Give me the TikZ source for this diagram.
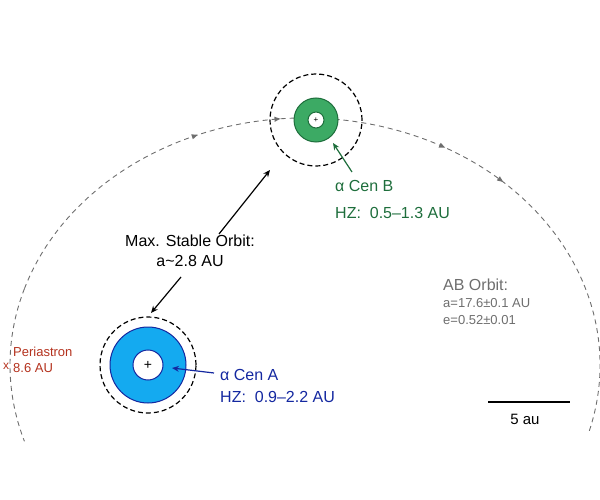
\documentclass[tikz,border=0pt]{standalone}
\usepackage{fontspec}
\setmainfont{Liberation Sans}
\usetikzlibrary{decorations.markings,arrows.meta}
\definecolor{gB}{RGB}{60,170,100}
\definecolor{gBt}{RGB}{30,110,60}
\definecolor{bA}{RGB}{20,170,240}
\definecolor{bAt}{RGB}{20,40,160}
\definecolor{redt}{RGB}{180,50,30}
\definecolor{grayt}{RGB}{110,110,110}
\begin{document}
\begin{tikzpicture}[x=1pt,y=-1pt,
  lbl/.style={font=\fontsize{16}{19}\selectfont,align=left,anchor=west,inner sep=0},
  zone/.style={circle,inner sep=0,line width=1pt},
  stab/.style={circle,draw,dashed,line width=1.2pt,dash pattern=on 5pt off 3pt,inner sep=0},
  ptr/.style={-{Stealth[length=7pt,width=6pt]},line width=1.2pt}]
\useasboundingbox (0,0) rectangle (600,500);
% orbit
\draw[grayt,line width=0.9pt,dash pattern=on 5pt off 4pt,
  postaction={decorate},
  decoration={markings,
   mark=at position 0.28 with {\fill[grayt] (3,0)--(-3,2.6)--(-3,-2.6)--cycle;},
   mark=at position 0.38 with {\fill[grayt] (3,0)--(-3,2.6)--(-3,-2.6)--cycle;},
   mark=at position 0.45 with {\fill[grayt] (3,0)--(-3,2.6)--(-3,-2.6)--cycle;},
   mark=at position 0.58 with {\fill[grayt] (3,0)--(-3,2.6)--(-3,-2.6)--cycle;},
   mark=at position 0.66 with {\fill[grayt] (3,0)--(-3,2.6)--(-3,-2.6)--cycle;}}]
  (305,365) ++(162:295 and -247) arc[start angle=162,end angle=-16,x radius=295,y radius=-247];
\draw[grayt,line width=0.9pt,dash pattern=on 5pt off 4pt]
  (305,365) ++(162:295 and -247) arc[start angle=162,end angle=198,x radius=295,y radius=-247];
% star B
\node[stab,minimum size=92pt] (sB) at (316,120) {};
\node[zone,fill=gB,draw=gBt,minimum size=44pt] (hzB) at (316,120) {};
\node[zone,fill=white,draw=gBt,minimum size=16pt] (cB) at (316,120) {};
\node[font=\fontsize{8}{8}\selectfont,inner sep=0] (pB) at (316,120) {+};
% star A
\node[stab,minimum size=96pt] (sA) at (148,365) {};
\node[zone,fill=bA,draw=bAt,minimum size=76pt] (hzA) at (148,365) {};
\node[zone,fill=white,draw=bAt,minimum size=30pt] (cA) at (148,365) {};
\node[font=\fontsize{14}{14}\selectfont,inner sep=0] (pA) at (148,365) {+};
% labels
\node[font=\fontsize{16}{20}\selectfont,align=center] (mso) at (190,251) {Max. Stable Orbit:\\a\textasciitilde 2.8 AU};
\coordinate (m1) at (219,234); \coordinate (t1) at (270,170);
\coordinate (m2) at (181,277); \coordinate (t2) at (151,313);
\draw[ptr] (m1) -- (t1);
\draw[ptr] (m2) -- (t2);
\node[lbl,text=gBt] (lB) at (335,186) {α Cen B};
\node[lbl,text=gBt] (hB) at (335,213) {HZ:\ \ 0.5–1.3 AU};
\coordinate (gb) at (352,172); \coordinate (gt) at (333,143);
\draw[ptr,gBt] (gb) -- (gt);
\node[lbl,text=bAt] (lA) at (220,375) {α Cen A};
\node[lbl,text=bAt] (hA) at (220,397) {HZ:\ \ 0.9–2.2 AU};
\coordinate (ab) at (214,373); \coordinate (at) at (172,368);
\draw[ptr,bAt] (ab) -- (at);
\node[lbl,text=redt,font=\fontsize{13}{16}\selectfont] (per) at (13,360) {Periastron\\8.6 AU};
\node[text=redt,font=\fontsize{12}{12}\selectfont,inner sep=0] (px) at (6,366) {x};
\node[lbl,text=grayt,font=\fontsize{16}{16}\selectfont] (abo) at (443,285) {AB Orbit:};
\node[lbl,text=grayt,font=\fontsize{13}{17}\selectfont,anchor=north west] (abv) at (443,298) {a=17.6±0.1 AU\\e=0.52±0.01};
\coordinate (s1) at (488,402); \coordinate (s2) at (570,402);
\draw[line width=2.2pt] (s1) -- (s2);
\node[font=\fontsize{15}{15}\selectfont] (sl) at (525,419) {5 au};
\end{tikzpicture}
\end{document}
